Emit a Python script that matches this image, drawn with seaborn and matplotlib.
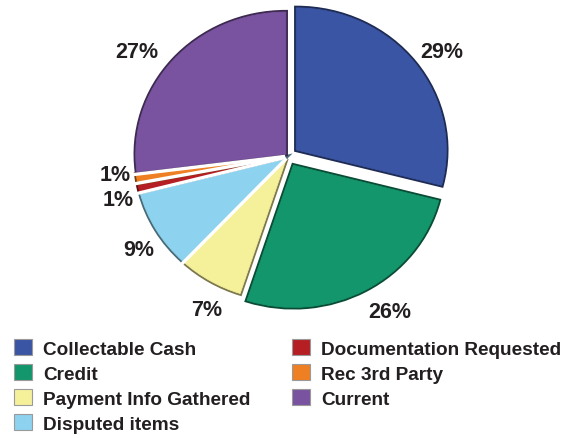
import matplotlib
matplotlib.use('Agg')
import matplotlib.pyplot as plt
import matplotlib.patheffects as pe
from matplotlib.patches import Patch
import numpy as np
import seaborn as sns

# ---- data ----
categories = ['Collectable Cash', 'Credit', 'Payment Info Gathered', 'Disputed items',
              'Documentation Requested', 'Rec 3rd Party', 'Current']
values = [29, 26, 7, 9, 1, 1, 27]
pct_labels = ['29%', '26%', '7%', '9%', '1%', '1%', '27%']
colors_hex = ['#3B55A5', '#13966B', '#F5F09A', '#8DD3EF', '#B51F24', '#EE7F22', '#7A53A0']

# ---- style ----
sns.set_theme(style='white')
plt.rcParams['font.family'] = ['Liberation Sans', 'DejaVu Sans']
palette = sns.color_palette(colors_hex)

explode = [0.07, 0.075, 0.02, 0.02, 0.02, 0.02, 0.02]
label_r = [1.26, 1.29, 1.21, 1.19, 1.17, 1.16, 1.245]
label_dang = [-2.2, 3.0, 4.0, 2.8, 2.6, -2.6, 5.2]

fig = plt.figure(figsize=(5.74, 4.39), dpi=100)
ax = fig.add_axes([0, 0, 1, 1])
wedges, _ = ax.pie(values, colors=palette, startangle=90, counterclock=False,
                   explode=explode, radius=1,
                   wedgeprops=dict(linewidth=0.6))
for w, c in zip(wedges, palette):
    dark = tuple(np.array(c) * 0.5)
    w.set_edgecolor(c)
    w.set_path_effects([pe.Stroke(linewidth=3.2, foreground=dark), pe.Normal()])

# white separators between adjacent slices sharing the same offset
for i in range(len(wedges) - 1):
    if explode[i] == explode[i + 1]:
        ang = np.deg2rad(wedges[i].theta1)
        cx, cy = wedges[i].center
        ax.plot([cx, cx + 1.03 * np.cos(ang)], [cy, cy + 1.03 * np.sin(ang)],
                color='white', lw=2.4, solid_capstyle='butt', zorder=5)

for w, lab, r, da in zip(wedges, pct_labels, label_r, label_dang):
    mid = np.deg2rad((w.theta1 + w.theta2) / 2 + da)
    ax.text(r * np.cos(mid), r * np.sin(mid), lab, ha='center', va='center',
            fontsize=15.5, fontweight='bold', color='#231f20')

ax.set_aspect('auto')
ax.set_xlim(-288 / 150, 286 / 150)
ax.set_ylim(-282 / 142, 157 / 142)
ax.axis('off')

handles = [Patch(facecolor=c, edgecolor='#9a9a9a', linewidth=0.8) for c in palette]
common = dict(frameon=False, prop={'weight': 'bold', 'size': 13.7},
              handlelength=0.95, handleheight=0.95, handletextpad=0.6,
              labelspacing=0.33, borderpad=0, borderaxespad=0, loc='upper left')
leg1 = fig.legend(handles[:4], categories[:4], bbox_to_anchor=(14 / 574, 1 - 340 / 439), **common)
for t in leg1.get_texts():
    t.set_color('#231f20')
leg2 = fig.legend(handles[4:], categories[4:], bbox_to_anchor=(292 / 574, 1 - 340 / 439), **common)
for t in leg2.get_texts():
    t.set_color('#231f20')

fig.savefig('out.png', dpi=100)
